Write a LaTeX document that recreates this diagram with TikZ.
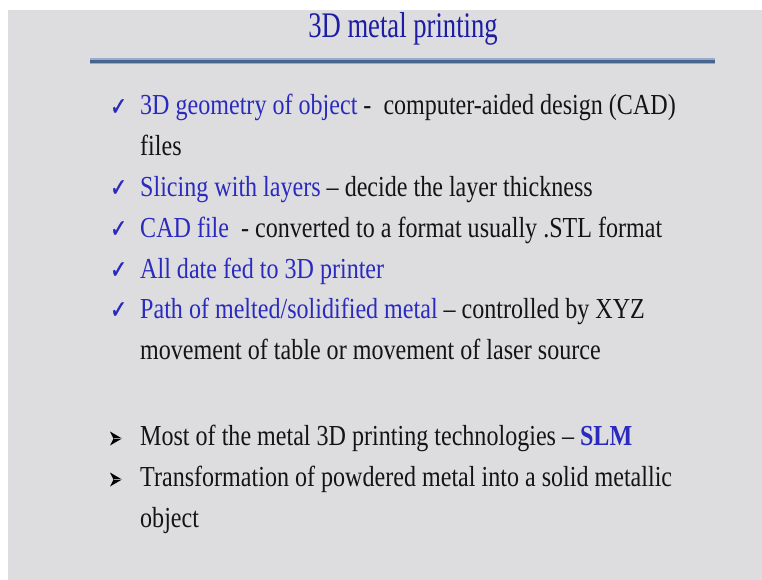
\documentclass[tikz,border=0pt]{standalone}
\usepackage{fontspec}
\setmainfont{Liberation Serif}
\newfontfamily\symfont[FakeBold=1.6]{DejaVu Sans}
\definecolor{slidebg}{RGB}{221,221,223}
\definecolor{titleblue}{RGB}{28,28,165}
\definecolor{textblue}{RGB}{42,42,190}
\definecolor{bodyblack}{RGB}{20,20,20}
\definecolor{ruleouter}{RGB}{150,172,205}
\definecolor{ruleinner}{RGB}{72,100,140}
\newcommand{\bodysize}{\fontsize{29}{34}\selectfont}
\newcommand{\narrow}[1]{\scalebox{0.83}[1]{#1}}
\newcommand{\bl}[1]{\textcolor{textblue}{#1}}
\tikzset{
  line/.style={anchor=base west, inner sep=0pt, text=bodyblack, font=\bodysize},
  tick/.style={anchor=base west, inner sep=0pt, text=textblue, font=\symfont\fontsize{20}{24}\selectfont},
  headline/.style={anchor=base, inner sep=0pt, text=titleblue, font=\fontsize{36}{40}\selectfont},
}
\begin{document}
\begin{tikzpicture}[x=1pt,y=-1pt]
  \useasboundingbox (0,0) rectangle (762,580);
  % slide area with white strip above and to the left
  \fill[white] (0,0) rectangle (762,580);
  \fill[slidebg] (8,10) rectangle (762,580);

  % title and rule
  \node[headline] (title) at (403,37.5) {\scalebox{0.74}[1]{3D metal printing}};
  \draw[ruleouter, line width=6pt] (90,61.5) -- (715,61.5);
  \draw[ruleinner, line width=2.6pt] (90,61.5) -- (715,61.5);

  % check-mark bullets
  \foreach \y/\n in {115/1,196/2,237/3,278/4,318/5}
    \node[tick] (tick\n) at (110,\y) {\scalebox{1}[1.25]{✓}};

  \node[line] (l1)  at (140,115) {\narrow{\bl{3D geometry of object} -\ \ computer-aided design (CAD)}};
  \node[line] (l1b) at (140,155.5) {\narrow{files}};
  \node[line] (l2)  at (140,196) {\narrow{\bl{Slicing with layers} – decide the layer thickness}};
  \node[line] (l3)  at (140,237) {\narrow{\bl{CAD file}\ \ - converted to a format usually .STL format}};
  \node[line] (l4)  at (140,278) {\narrow{\bl{All date fed to 3D printer}}};
  \node[line] (l5)  at (140,318) {\narrow{\bl{Path of melted/solidified metal} – controlled by XYZ}};
  \node[line] (l5b) at (140,359) {\narrow{movement of table or movement of laser source}};

  % arrowhead bullets
  \foreach \y/\n in {445/1,486/2}{
    \fill[black] (110,\y-13.5) -- (122,\y-6.5) -- (110,\y+0.5) -- (113.5,\y-6.5) -- cycle;
    \draw[white!60!black, line width=0.6pt] (113.5,\y-6.5) -- (121.5,\y-6.5);
    \coordinate (arrow\n) at (110,\y);
  }

  \node[line] (m1)  at (140,445) {\narrow{Most of the metal 3D printing technologies – \textcolor{textblue}{\textbf{SLM}}}};
  \node[line] (m2)  at (140,486) {\narrow{Transformation of powdered metal into a solid metallic}};
  \node[line] (m2b) at (140,527) {\narrow{object}};
\end{tikzpicture}
\end{document}
